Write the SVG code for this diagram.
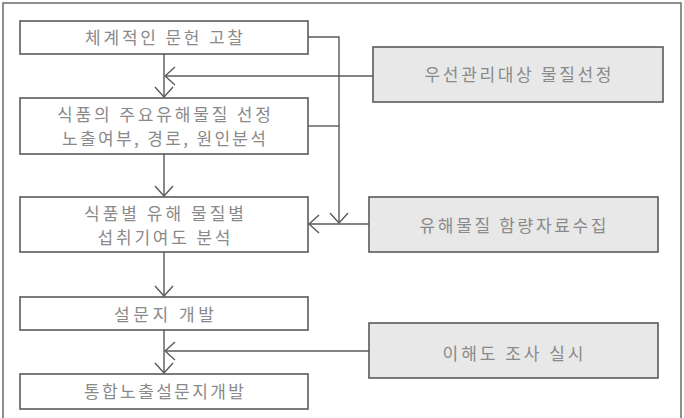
<svg xmlns="http://www.w3.org/2000/svg" width="684" height="418" viewBox="0 0 684 418">
<defs>
<style>
.frame{fill:#fff;stroke:#6a6a6a;stroke-width:1.5}
.box{fill:#fff;stroke:#5a5a5a;stroke-width:1.6}
.gbox{fill:#e8e8e8;stroke:#5a5a5a;stroke-width:1.6}
.lbl{font-family:"Noto Sans CJK KR","Noto Sans",sans-serif;font-size:17px;fill:#8a8a8a;text-anchor:middle}
.ln{fill:none;stroke:#5a5a5a;stroke-width:1.4}
</style>
<marker id="ah" viewBox="0 0 12 20" refX="11" refY="10" markerWidth="12" markerHeight="20" markerUnits="userSpaceOnUse" orient="auto">
<path d="M1,1 L11,10 L1,19" fill="none" stroke="#5a5a5a" stroke-width="1.4"/>
</marker>
</defs>
<rect class="frame" x="3" y="3" width="678" height="420"/>
<g id="n1"><rect class="box" x="20" y="21" width="288" height="33"/><text class="lbl" x="164" y="44" textLength="158">체계적인 문헌 고찰</text></g>
<g id="n2"><rect class="box" x="20" y="98" width="288" height="56"/><text class="lbl" x="164" y="121" textLength="214">식품의 주요유해물질 선정</text><text class="lbl" x="164" y="145" textLength="204">노출여부, 경로, 원인분석</text></g>
<g id="n3"><rect class="box" x="20" y="197" width="288" height="55"/><text class="lbl" x="164" y="220" textLength="160">식품별 유해 물질별</text><text class="lbl" x="164" y="244" textLength="133">섭취기여도 분석</text></g>
<g id="n4"><rect class="box" x="20" y="297" width="288" height="33"/><text class="lbl" x="164" y="321" textLength="100">설문지 개발</text></g>
<g id="n5"><rect class="box" x="20" y="374" width="288" height="35"/><text class="lbl" x="164" y="398" textLength="160">통합노출설문지개발</text></g>
<g id="g1"><rect class="gbox" x="373" y="47" width="290" height="55"/><text class="lbl" x="518" y="81" textLength="187">우선관리대상 물질선정</text></g>
<g id="g2"><rect class="gbox" x="369" y="197" width="289" height="55"/><text class="lbl" x="513" y="232" textLength="187">유해물질 함량자료수집</text></g>
<g id="g3"><rect class="gbox" x="369" y="323" width="289" height="55"/><text class="lbl" x="513" y="360" textLength="141">이해도 조사 실시</text></g>
<g id="connectors">
<path class="ln" d="M164,54 V97" marker-end="url(#ah)"/>
<path class="ln" d="M164,154 V196" marker-end="url(#ah)"/>
<path class="ln" d="M164,252 V296" marker-end="url(#ah)"/>
<path class="ln" d="M164,330 V373" marker-end="url(#ah)"/>
<path class="ln" d="M373,76 H165" marker-end="url(#ah)"/>
<path class="ln" d="M369,351 H165" marker-end="url(#ah)"/>
<path class="ln" d="M369,224 H309" marker-end="url(#ah)"/>
<path class="ln" d="M308,37 H339 V223" marker-end="url(#ah)"/>
<path class="ln" d="M308,126 H339"/>
</g>
</svg>
